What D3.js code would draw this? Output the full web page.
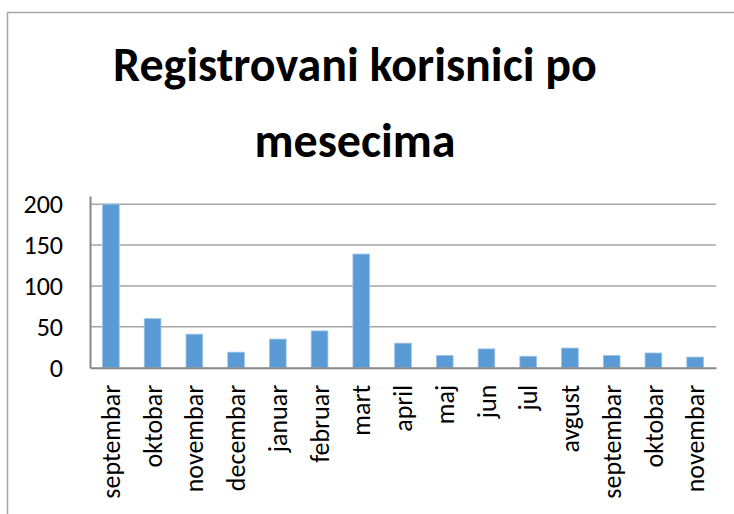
<!DOCTYPE html>
<html>
<head>
<meta charset="utf-8">
<script src="https://cdn.jsdelivr.net/npm/d3@7"></script>
<style>
  body { margin: 0; background: #fff; }
  svg { display: block; font-family: Carlito, Calibri, Lato, sans-serif; }
</style>
</head>
<body>
<svg id="chart" width="734" height="514"></svg>
<script>
// Chart data
const months = ['septembar', 'oktobar', 'novembar', 'decembar', 'januar', 'februar', 'mart',
  'april', 'maj', 'jun', 'jul', 'avgust', 'septembar', 'oktobar', 'novembar'];
const users = [200, 60, 41, 19, 35, 45, 139, 30, 15, 23, 14, 24, 15, 18, 13];
const yTicks = [0, 50, 100, 150, 200];
const titleLines = ['Registrovani korisnici po', 'mesecima'];

const svg = d3.select('#chart');
const plot = { left: 90, right: 716, top: 196, bottom: 367.7 };

// Outer chart frame (right and bottom edges fall outside the picture)
svg.append('rect')
  .attr('x', 7.5).attr('y', 12.5)
  .attr('width', 900).attr('height', 700)
  .attr('fill', 'none')
  .attr('stroke', '#a6a6a6')
  .attr('stroke-width', 1.5);

// Title
svg.append('text')
  .attr('x', 355)
  .attr('text-anchor', 'middle')
  .style('font-size', '48px')
  .style('font-weight', 'bold')
  .attr('fill', '#000')
  .selectAll('tspan')
  .data(titleLines)
  .enter()
  .append('tspan')
  .attr('x', 355)
  .attr('y', (d, i) => 81 + i * 76)
  .text(d => d);

const x = d3.scaleBand()
  .domain(d3.range(months.length))
  .range([plot.left, plot.right])
  .paddingInner(0.6)
  .paddingOuter(0.3);

const y = d3.scaleLinear()
  .domain([0, 210])
  .range([plot.bottom, plot.top]);

// Gridlines
svg.append('g')
  .selectAll('line')
  .data(yTicks.filter(d => d > 0))
  .enter()
  .append('line')
  .attr('x1', plot.left).attr('x2', plot.right)
  .attr('y1', d => y(d)).attr('y2', d => y(d))
  .attr('stroke', '#a6a6a6')
  .attr('stroke-width', 1.5);

// Bars
svg.append('g')
  .selectAll('rect')
  .data(users)
  .enter()
  .append('rect')
  .attr('x', (d, i) => x(i))
  .attr('y', d => y(d))
  .attr('width', x.bandwidth())
  .attr('height', d => y(0) - y(d))
  .attr('fill', '#5b9bd5')
  .attr('stroke', '#9dc3e6')
  .attr('stroke-width', 0.8);

// Y axis
const yAxis = svg.append('g')
  .attr('transform', `translate(${plot.left},0)`)
  .call(d3.axisLeft(y).tickValues(yTicks).tickSize(0).tickPadding(27));
yAxis.select('.domain').attr('stroke', '#868686').attr('stroke-width', 2);
yAxis.selectAll('text')
  .style('font-size', '26px')
  .style('font-family', 'Carlito, Calibri, Lato, sans-serif')
  .attr('fill', '#000');

// X axis
const xAxis = svg.append('g')
  .attr('transform', `translate(0,${plot.bottom})`)
  .call(d3.axisBottom(x).tickFormat(i => months[i]).tickSize(0));
xAxis.select('.domain').attr('stroke', '#868686').attr('stroke-width', 2);
xAxis.selectAll('text')
  .style('font-size', '26px')
  .style('font-family', 'Carlito, Calibri, Lato, sans-serif')
  .attr('fill', '#000')
  .attr('text-anchor', 'end')
  .attr('transform', 'rotate(-90)')
  .attr('x', -17)
  .attr('y', 0)
  .attr('dy', '0.35em');
</script>
</body>
</html>
